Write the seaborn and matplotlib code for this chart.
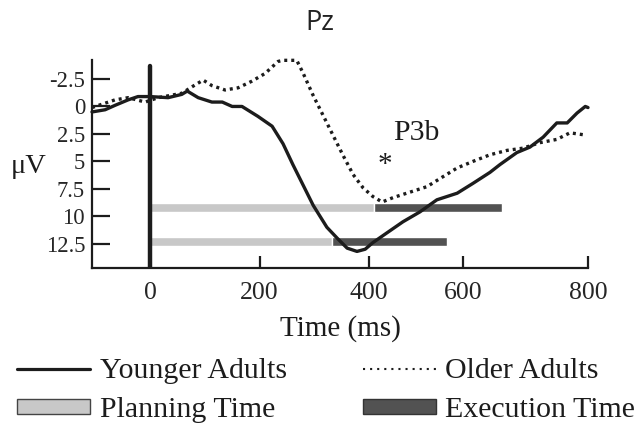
import numpy as np
import pandas as pd
import matplotlib
matplotlib.use("Agg")
import matplotlib.pyplot as plt
from matplotlib.lines import Line2D
from matplotlib.patches import Patch
import seaborn as sns

# ---------------- data ----------------
young_t = [-106, -82, -64, -40, -22, 0, 33, 58, 68, 88, 113, 132, 150, 168, 197, 223,
           243, 261, 279, 298, 323, 342, 360, 378, 393, 407, 433, 462, 493, 524, 561,
           590, 621, 639, 670, 694, 718, 743, 762, 780, 795, 800]
young_uv = [0.5, 0.3, -0.1, -0.6, -0.9, -0.9, -0.8, -1.1, -1.4, -0.8, -0.4, -0.4, 0.0, 0.0,
            0.9, 1.8, 3.4, 5.3, 7.1, 9.0, 11.0, 12.0, 12.9, 13.2, 13.0, 12.4, 11.5, 10.5,
            9.6, 8.5, 7.9, 7.0, 6.0, 5.3, 4.2, 3.7, 2.8, 1.5, 1.5, 0.6, 0.0, 0.1]
old_t = [-106, -64, -40, -9, 15, 58, 77, 97, 113, 137, 161, 186, 210, 234, 243, 268,
         279, 298, 316, 334, 352, 371, 389, 407, 424, 444, 475, 506, 535, 561, 590,
         621, 652, 681, 712, 743, 767, 795]
old_uv = [0.1, -0.6, -0.8, -0.4, -0.8, -1.2, -1.8, -2.4, -1.9, -1.5, -1.7, -2.3, -3.0,
          -4.1, -4.2, -4.2, -3.1, -1.0, 0.8, 2.6, 4.4, 6.2, 7.4, 8.2, 8.7, 8.3, 7.8,
          7.3, 6.4, 5.6, 5.0, 4.4, 4.0, 3.8, 3.3, 3.0, 2.4, 2.6]
groups = ["Younger Adults", "Older Adults"]

bar_rows = [9.2, 12.3]
planning_start = [0, 0]
execution_start = [409, 332]
execution_end = [643, 542]

xtick_labels = ["0", "200", "400", "600", "800"]
ytick_vals = [-2.5, 0, 2.5, 5, 7.5, 10, 12.5]
ytick_labels = ["-2.5", "0", "2.5", "5", "7.5", "10", "12.5"]
legend_labels = ["Younger Adults", "Planning Time", "Older Adults", "Execution Time"]

# ---------------- style ----------------
sns.set_theme(style="white")
plt.rcParams["font.family"] = ["Liberation Serif", "DejaVu Serif"]
plt.rcParams["axes.edgecolor"] = "#222222"

LIGHT = "#c8c8c8"
DARK = "#525252"
INK = "#1c1c1c"

fig = plt.figure(figsize=(6.43, 4.26), dpi=100)
ax = fig.add_axes([92 / 643, 1 - 268 / 426, (588 - 92) / 643, (268 - 60) / 426])

# bars (planning then execution)
bh = 0.9
ax.barh(bar_rows, np.array(execution_start) - np.array(planning_start),
        left=planning_start, height=bh, color=LIGHT, zorder=1)
ax.barh(bar_rows, np.array(execution_end) - np.array(execution_start),
        left=execution_start, height=bh, color=DARK, zorder=1)

# curves
df = pd.concat([
    pd.DataFrame({"time": young_t, "uv": young_uv, "group": groups[0]}),
    pd.DataFrame({"time": old_t, "uv": old_uv, "group": groups[1]}),
])
sns.lineplot(data=df, x="time", y="uv", hue="group", style="group",
             palette={groups[0]: INK, groups[1]: INK},
             dashes={groups[0]: "", groups[1]: (0.9, 1.2)},
             estimator=None, sort=False, legend=False, linewidth=2.4, ax=ax, zorder=3)
for ln in ax.lines:
    ln.set_clip_on(False)

# stimulus onset line
ax.axvline(0, ymin=0, ymax=0.971, color=INK, lw=3.2, zorder=4)

ax.set_xlim(-106, 800)
ax.set_ylim(14.71, -4.23)

ax.set_xticks([0, 200, 400, 572, 800])
ax.set_xticklabels(xtick_labels)
ax.set_yticks(ytick_vals)
ax.set_yticklabels(ytick_labels)
ax.tick_params(axis="y", direction="in", length=13, width=1.6, color=INK,
               labelsize=16.3, pad=5, left=True)
ax.tick_params(axis="x", direction="in", length=9, width=1.6, color=INK,
               labelsize=18.5, pad=10, bottom=True)

for s in ["top", "right"]:
    ax.spines[s].set_visible(False)
for s in ["left", "bottom"]:
    ax.spines[s].set_linewidth(1.6)
    ax.spines[s].set_color(INK)

ax.set_xlabel("Time (ms)", fontsize=21, labelpad=8, color=INK)
ax.set_ylabel("μV", rotation=0, fontsize=20.5, color=INK, ha="center", va="center")
ax.yaxis.set_label_coords(-0.127, 0.486)

# annotations
ax.text(429, 5.35, "*", fontsize=21, ha="center", va="center", color=INK)
ax.text(444, 2.4, "P3b", fontsize=21.5, ha="left", va="center", color=INK)

fig.text(320 / 643, 1 - 23 / 426, "Pz", fontsize=19.5, family="Open Sans",
         ha="center", va="center", color="#222222")

# legend
handles = [
    Line2D([], [], color=INK, lw=2.3),
    Patch(facecolor=LIGHT, edgecolor="#444444", linewidth=1.0),
    Line2D([], [], color=INK, lw=1.5, linestyle=(0, (1, 2.4))),
    Patch(facecolor=DARK, edgecolor="#333333", linewidth=1.0),
]
fig.legend(handles, legend_labels, ncol=2, loc="upper left",
           bbox_to_anchor=(17 / 643, 1 - 358 / 426), frameon=False,
           fontsize=21.5, handlelength=2.44, handleheight=0.37, handletextpad=0.33,
           columnspacing=2.54, labelspacing=0.45, borderpad=0, borderaxespad=0,
           labelcolor=INK)

fig.savefig("out.png", dpi=100)
